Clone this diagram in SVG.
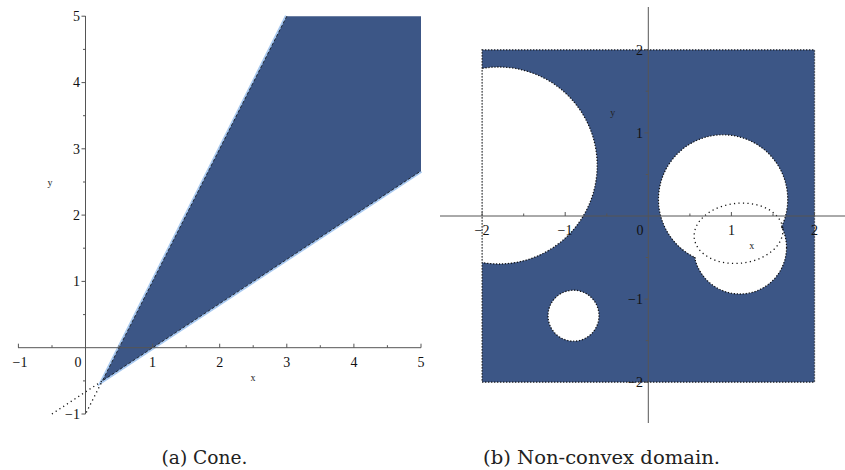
<svg xmlns="http://www.w3.org/2000/svg" width="845" height="470" viewBox="0 0 845 470">
<defs>
<style>
.ax{stroke:#555;stroke-width:1;fill:none}
.tk{stroke:#555;stroke-width:1}
.lb{font-family:"Liberation Serif","Times New Roman",serif;font-size:14px;fill:#111}
.sm{font-family:"Liberation Serif","Times New Roman",serif;font-size:10px;fill:#222}
.cap{font-family:"DejaVu Serif",serif;font-size:19px;fill:#222}
.fill{fill:#3c5686}
.dot{fill:none;stroke:#111;stroke-width:1.3;stroke-dasharray:1.2 1.8}
.sparse{fill:none;stroke:#111;stroke-width:1.3;stroke-dasharray:1.2 3.3}
.edge{fill:none;stroke:#a9c9f0;stroke-width:4}
.dash{fill:none;stroke:#111;stroke-width:0.8;stroke-dasharray:3 2}
</style>
<clipPath id="sq"><rect x="482.1" y="49.8" width="332.4" height="332.4"/></clipPath>
</defs>

<g id="plot-a">
  <g id="cone">
    <polyline class="edge" points="286.8,16.2 102.3,380.9 421,170.9"/>
    <polygon class="fill" points="102.3,380.9 286.8,16.2 421,16.2 421,170.9"/>
    <polyline class="dash" points="286.8,16.2 102.3,380.9 421,170.9"/>
    <polyline class="sparse" points="51.9,414 102.3,380.9 85.5,414"/>
  </g>
  <g id="axes-a">
    <line class="ax" x1="85.5" y1="16" x2="85.5" y2="414"/>
    <line class="ax" x1="18" y1="347.7" x2="421" y2="347.7"/>
    <path class="tk" d="M81.5,16.2H85.5M83,49.4H85.5M81.5,82.6H85.5M83,115.7H85.5M81.5,148.8H85.5M83,182H85.5M81.5,215.1H85.5M83,248.2H85.5M81.5,281.4H85.5M83,314.6H85.5M83,380.9H85.5M81.5,414H85.5"/>
    <path class="tk" d="M18.4,347.7V343.7M52,347.7V345.2M119,347.7V345.2M152.6,347.7V343.7M186.2,347.7V345.2M219.7,347.7V343.7M253.2,347.7V345.2M286.8,347.7V343.7M320.3,347.7V345.2M353.9,347.7V343.7M387.4,347.7V345.2M421,347.7V343.7"/>
  </g>
  <g id="labels-a">
    <text class="lb" x="80" y="21" text-anchor="end">5</text>
    <text class="lb" x="80" y="87.3" text-anchor="end">4</text>
    <text class="lb" x="80" y="153.6" text-anchor="end">3</text>
    <text class="lb" x="80" y="219.9" text-anchor="end">2</text>
    <text class="lb" x="80" y="286.2" text-anchor="end">1</text>
    <text class="lb" x="80" y="418.7" text-anchor="end">−1</text>
    <text class="lb" x="20" y="366.5" text-anchor="middle">−1</text>
    <text class="lb" x="78" y="366.5" text-anchor="middle">0</text>
    <text class="lb" x="152.6" y="366.5" text-anchor="middle">1</text>
    <text class="lb" x="219.7" y="366.5" text-anchor="middle">2</text>
    <text class="lb" x="286.8" y="366.5" text-anchor="middle">3</text>
    <text class="lb" x="353.9" y="366.5" text-anchor="middle">4</text>
    <text class="lb" x="421" y="366.5" text-anchor="middle">5</text>
    <text class="sm" x="253" y="381" text-anchor="middle">x</text>
    <text class="sm" x="50" y="186" text-anchor="middle">y</text>
  </g>
</g>

<g id="plot-b">
  <g id="domain">
    <rect class="fill" x="482.1" y="49.8" width="332.4" height="332.4"/>
    <g clip-path="url(#sq)">
      <circle cx="498.7" cy="165.5" r="98.5" fill="#fff"/>
      <circle cx="723.1" cy="199.4" r="64.6" fill="#fff"/>
      <circle cx="740" cy="247.5" r="46.5" fill="#fff"/>
      <circle cx="573.5" cy="315.7" r="25.5" fill="#fff"/>
      <circle class="dot" cx="498.7" cy="165.5" r="98.5"/>
      <circle class="dot" cx="723.1" cy="199.4" r="64.6"/>
      <circle class="dot" cx="740" cy="247.5" r="46.5"/>
      <circle class="dot" cx="573.5" cy="315.7" r="25.5"/>
      <circle cx="723.1" cy="199.4" r="63.6" fill="#fff"/>
      <circle cx="740" cy="247.5" r="45.5" fill="#fff"/>
    </g>
    <rect class="dot" x="482.1" y="49.8" width="332.4" height="332.4"/>
    <ellipse class="sparse" cx="738.5" cy="233.3" rx="44.5" ry="30" transform="rotate(-6 738.5 233.3)"/>
  </g>
  <g id="axes-b">
    <line class="ax" x1="648.3" y1="7" x2="648.3" y2="423"/>
    <line class="ax" x1="440" y1="216" x2="845" y2="216"/>
    <path class="tk" d="M644.3,49.8H648.3M645.8,91.2H648.3M644.3,132.9H648.3M645.8,174.5H648.3M645.8,257.5H648.3M644.3,299.1H648.3M645.8,340.6H648.3M644.3,382.2H648.3"/>
    <path class="tk" d="M482.1,216V212M523.7,216V213.5M565.2,216V212M606.8,216V213.5M689.9,216V213.5M731.4,216V212M773,216V213.5M814.5,216V212"/>
  </g>
  <g id="labels-b">
    <text class="lb" x="643" y="54.6" text-anchor="end">2</text>
    <text class="lb" x="643" y="137.7" text-anchor="end">1</text>
    <text class="lb" x="643" y="303.9" text-anchor="end">−1</text>
    <text class="lb" x="643" y="387" text-anchor="end">−2</text>
    <text class="lb" x="482" y="235" text-anchor="middle">−2</text>
    <text class="lb" x="565" y="235" text-anchor="middle">−1</text>
    <text class="lb" x="640" y="235" text-anchor="middle">0</text>
    <text class="lb" x="731.4" y="235" text-anchor="middle">1</text>
    <text class="lb" x="814.5" y="235" text-anchor="middle">2</text>
    <text class="sm" x="751.7" y="249" text-anchor="middle">x</text>
    <text class="sm" x="612.7" y="116" text-anchor="middle">y</text>
  </g>
</g>

<g id="captions">
  <text class="cap" x="204.5" y="464" text-anchor="middle" textLength="86" lengthAdjust="spacingAndGlyphs">(a) Cone.</text>
  <text class="cap" x="601.5" y="464" text-anchor="middle" textLength="237" lengthAdjust="spacingAndGlyphs">(b) Non-convex domain.</text>
</g>
</svg>
